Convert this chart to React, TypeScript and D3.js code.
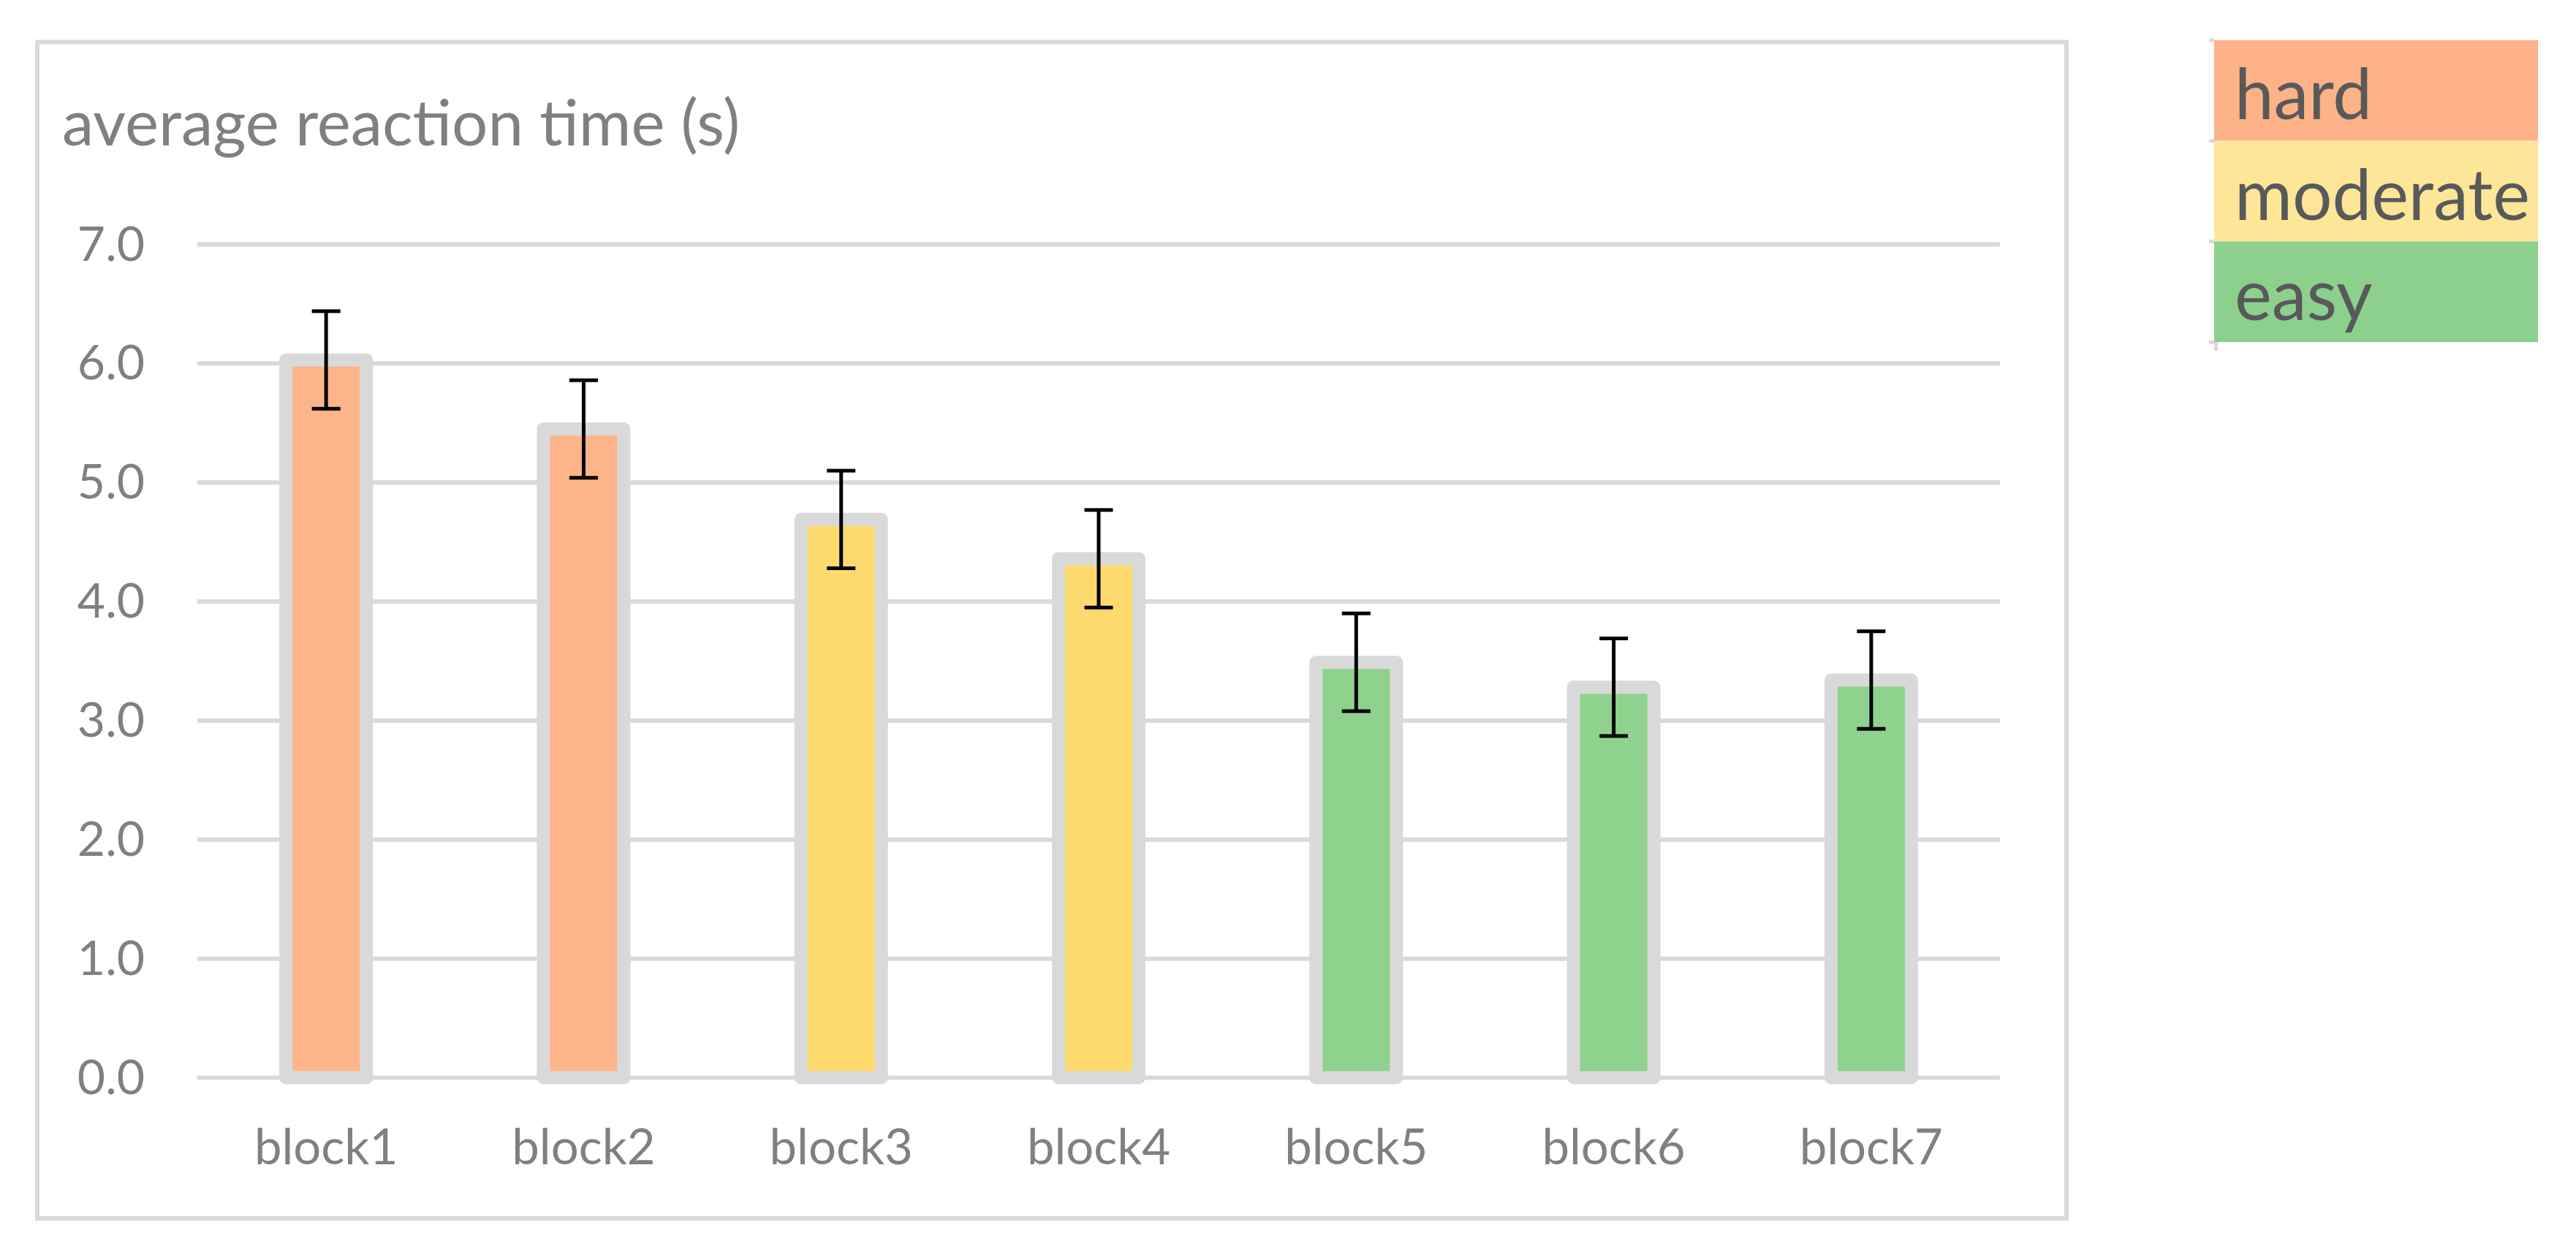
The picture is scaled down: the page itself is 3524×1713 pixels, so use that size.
import React from "react";
import * as d3 from "d3";

const categories = ["block1", "block2", "block3", "block4", "block5", "block6", "block7"];
const meanRT = [6.03, 5.45, 4.69, 4.36, 3.49, 3.28, 3.34];
const errRT = [0.41, 0.41, 0.41, 0.41, 0.41, 0.41, 0.41];
const difficulty = ["hard", "hard", "moderate", "moderate", "easy", "easy", "easy"];
const yTicks = [0, 1, 2, 3, 4, 5, 6, 7];
const legendLabels = ["hard", "moderate", "easy"];

const barColors: Record<string, string> = { hard: "#FDB489", moderate: "#FEDA6E", easy: "#8ED28E" };
const legendColors: Record<string, string> = { hard: "#FDB288", moderate: "#FEE699", easy: "#8DD08D" };

const W = 3524;
const H = 1713;
const FONT = "Lato, 'Noto Sans', sans-serif";
const GRAY = "#D9D9D9";
const TEXT = "#808080";

export default function App() {
  const x = d3
    .scaleBand<string>()
    .domain(categories)
    .range([270, 2736])
    .paddingInner(0.6878)
    .paddingOuter(0.6878 / 2);
  const y = d3.scaleLinear().domain([0, 7]).range([1474.5, 334.5]);
  const bw = x.bandwidth();
  const capW = 39;

  const legendY = d3.scaleBand<string>().domain(legendLabels).range([55, 468]);

  return (
    <svg
      width={W}
      height={H}
      viewBox={`0 0 ${W} ${H}`}
      style={{ position: "absolute", left: 0, top: 0, background: "#fff" }}
    >
      <rect x={0} y={0} width={W} height={H} fill="#fff" />
      {/* chart frame */}
      <rect x={51} y={57.5} width={2776} height={1609.5} fill="none" stroke={GRAY} strokeWidth={6} />

      {/* title */}
      <text x={85} y={199} fontFamily={FONT} fontSize={87} fill={TEXT}>
        average reaction time (s)
      </text>

      {/* gridlines + y labels */}
      {yTicks.map((t) => (
        <g key={t}>
          <line x1={270} x2={2736} y1={y(t)} y2={y(t)} stroke={GRAY} strokeWidth={6} />
          <text
            x={198}
            y={y(t) + 22}
            textAnchor="end"
            fontFamily={FONT}
            fontSize={66}
            fill={TEXT}
          >
            {d3.format(".1f")(t)}
          </text>
        </g>
      ))}

      {/* bars */}
      {categories.map((c, i) => (
        <rect
          key={c}
          x={x(c)}
          y={y(meanRT[i])}
          width={bw}
          height={y(0) - y(meanRT[i])}
          fill={barColors[difficulty[i]]}
          stroke={GRAY}
          strokeWidth={18}
          strokeLinejoin="round"
        />
      ))}

      {/* error bars */}
      {categories.map((c, i) => {
        const cx = (x(c) as number) + bw / 2;
        const top = y(meanRT[i] + errRT[i]);
        const bot = y(meanRT[i] - errRT[i]);
        return (
          <g key={c} stroke="#000" strokeWidth={5}>
            <line x1={cx} x2={cx} y1={top} y2={bot} />
            <line x1={cx - capW / 2} x2={cx + capW / 2} y1={top} y2={top} />
            <line x1={cx - capW / 2} x2={cx + capW / 2} y1={bot} y2={bot} />
          </g>
        );
      })}

      {/* x labels */}
      {categories.map((c) => (
        <text
          key={c}
          x={(x(c) as number) + bw / 2}
          y={1593}
          textAnchor="middle"
          fontFamily={FONT}
          fontSize={67}
          fill={TEXT}
        >
          {c}
        </text>
      ))}

      {/* legend */}
      {legendLabels.map((l) => {
        const ly = legendY(l) as number;
        const lh = legendY.bandwidth();
        return (
          <g key={l}>
            <rect x={3029} y={ly} width={443} height={lh} fill={legendColors[l]} />
            <rect x={3022} y={ly - 2.5} width={7} height={5} fill={GRAY} />
            <text x={3057} y={ly + 108} fontFamily={FONT} fontSize={96} fill="#595959">
              {l}
            </text>
          </g>
        );
      })}
      <rect x={3022} y={465.5} width={7} height={5} fill={GRAY} />
      <rect x={3029} y={468} width={5} height={12} fill={GRAY} />
    </svg>
  );
}
